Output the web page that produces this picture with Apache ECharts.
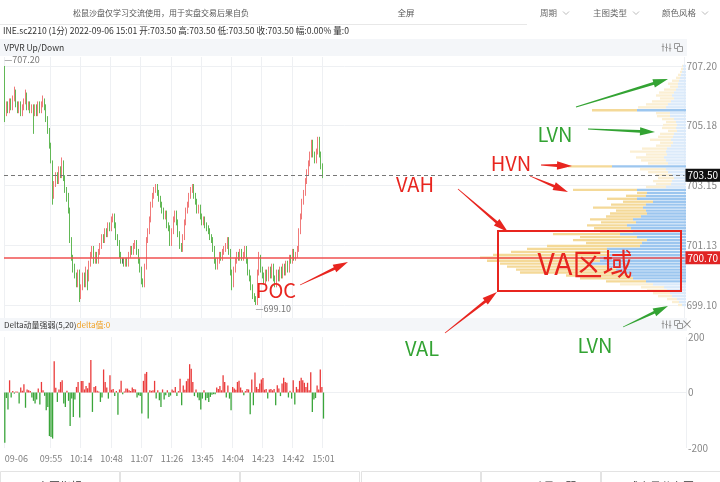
<!DOCTYPE html>
<html><head><meta charset="utf-8">
<script src="https://cdn.jsdelivr.net/npm/echarts@6/dist/echarts.min.js"></script>
<style>html,body{margin:0;padding:0;background:#fff}#c{width:720px;height:482px}</style>
</head><body><div id="c"></div>
<script>
// ---------------- data ----------------
const sessions = [['09:26','10:15'],['10:31','11:30'],['13:31','15:01']];
const dateLabel = '09-06';
const labelStart = 29, labelStep = 19;
// [open, close, low, high]
const candles = [
[707.2,705.6,705.3,707.2],[705.6,705.9,705.5,706.0],[705.9,705.7,705.6,706.0],[705.7,706.0,705.6,706.1],[706.0,705.8,705.7,706.1],
[705.8,706.1,705.7,706.2],[706.1,706.3,706.0,706.5],[706.3,705.9,705.8,706.4],[705.9,705.7,705.6,706.0],[705.7,705.9,705.6,706.0],
[705.9,705.6,705.5,706.0],[705.6,705.8,705.5,705.9],[705.8,706.0,705.7,706.1],[706.0,706.2,705.9,706.4],[706.2,705.8,705.7,706.3],
[705.8,705.9,705.7,706.0],[705.9,705.7,705.6,706.0],[705.7,705.8,705.6,705.9],[705.8,705.6,704.9,705.9],[705.6,705.8,705.5,705.9],
[705.8,705.6,705.5,705.9],[705.6,705.9,705.5,706.0],[705.9,705.7,705.6,706.0],[705.7,705.9,705.6,706.0],[705.9,706.1,705.8,706.2],
[706.1,705.8,705.7,706.1],[705.8,705.4,705.3,705.9],[705.4,705.0,704.9,705.5],[705.0,704.5,704.4,705.1],[704.5,704.0,703.9,704.6],
[704.0,702.8,702.5,704.0],[702.8,703.2,702.7,703.3],[703.2,703.5,703.1,703.6],[703.5,703.3,703.2,703.6],[703.3,703.7,703.2,703.8],
[703.7,703.5,703.4,703.8],[703.5,703.9,703.4,704.1],[703.9,703.4,703.3,704.0],[703.4,703.0,702.9,703.5],[703.0,702.7,702.6,703.1],
[702.7,702.3,702.2,702.9],[702.3,701.3,701.2,702.4],[701.3,700.7,700.6,701.4],[700.7,700.3,700.2,700.8],[700.3,700.1,700.0,700.5],
[700.1,699.8,699.7,700.2],[699.8,700.2,699.7,700.3],[700.2,699.4,699.2,700.3],[699.4,699.7,699.3,699.8],[699.7,700.1,699.6,700.2],
[700.1,699.8,699.7,700.2],[699.8,700.3,699.7,700.4],[700.3,700.0,699.6,700.3],[700.0,700.5,699.9,700.6],[700.5,700.8,700.4,700.9],
[700.8,701.0,700.7,701.1],[701.0,700.6,700.5,701.1],[700.6,700.8,700.5,700.9],[700.8,700.6,700.5,700.9],[700.6,700.9,700.5,701.0],
[700.9,701.1,700.8,701.2],[701.1,701.4,701.0,701.5],[701.4,701.3,701.2,701.5],[701.3,701.6,701.2,701.7],[701.6,701.5,701.4,701.7],
[701.5,701.8,701.4,701.9],[701.8,701.7,701.6,701.9],[701.7,702.0,701.6,702.1],[702.0,702.1,701.9,702.2],[702.1,701.8,701.7,702.2],
[701.8,701.4,701.3,701.9],[701.4,701.2,701.1,701.5],[701.2,700.8,700.7,701.3],[700.8,700.6,700.5,700.9],[700.6,700.6,700.5,700.7],
[700.6,700.5,700.4,700.7],[700.5,700.6,700.4,700.7],[700.6,700.5,700.4,700.7],[700.5,700.8,700.4,700.9],[700.8,701.0,700.7,701.1],
[701.0,700.9,700.8,701.1],[700.9,701.1,700.8,701.2],[701.1,701.2,701.0,701.3],[701.2,700.9,700.8,701.3],[700.9,700.6,700.5,701.0],
[700.6,700.3,700.2,700.7],[700.3,699.9,699.8,700.4],[699.9,699.8,699.7,700.0],[699.8,700.4,699.7,700.5],[700.4,701.3,700.3,701.4],
[701.3,701.6,701.2,701.7],[701.6,702.0,701.5,702.1],[702.0,702.5,701.9,702.6],[702.5,702.8,702.4,702.9],[702.8,703.0,702.7,703.1],
[703.0,703.1,702.9,703.2],[703.1,702.9,702.8,703.2],[702.9,702.7,702.6,703.0],[702.7,702.5,702.4,702.8],[702.5,702.3,702.2,702.6],
[702.3,702.1,702.0,702.4],[702.1,702.2,702.0,702.3],[702.2,701.8,701.7,702.3],[701.8,701.7,701.6,701.9],[701.7,701.2,701.1,701.8],
[701.2,701.6,701.1,701.7],[701.6,702.0,701.5,702.1],[702.0,702.2,701.9,702.3],[702.2,701.9,701.8,702.3],[701.9,701.5,701.4,702.0],
[701.5,701.1,701.0,701.6],[701.1,701.0,700.9,701.2],[701.0,701.4,700.9,701.5],[701.4,701.9,701.3,702.0],[701.9,702.3,701.8,702.4],
[702.3,702.5,702.2,702.6],[702.5,702.8,702.4,702.9],[702.8,703.0,702.7,703.1],[703.0,703.1,702.9,703.2],[703.1,702.8,702.7,703.2],
[702.8,702.6,702.5,702.9],[702.6,702.3,702.2,702.7],[702.3,702.4,702.2,702.5],[702.4,702.1,702.0,702.5],[702.1,701.9,701.8,702.2],
[701.9,702.0,701.8,702.1],[702.0,701.8,701.7,702.1],[701.8,701.7,701.6,701.9],[701.7,701.6,701.5,701.8],[701.6,701.4,701.3,701.7],
[701.4,701.3,701.2,701.5],[701.3,701.0,700.9,701.4],[701.0,700.6,700.5,701.1],[700.6,700.4,700.3,700.7],[700.4,700.6,700.3,700.7],
[700.6,700.8,700.5,700.9],[700.8,700.7,700.6,700.9],[700.7,700.9,700.6,701.0],[700.9,701.0,700.8,701.1],[701.0,701.1,700.9,701.2],
[701.1,701.3,701.0,701.4],[701.3,700.9,700.8,701.4],[700.9,700.2,700.1,701.0],[700.2,699.8,699.6,700.3],[699.8,700.3,699.7,700.4],
[700.3,700.6,700.2,700.7],[700.6,700.8,700.5,700.9],[700.8,700.7,700.6,700.9],[700.7,700.9,700.6,701.0],[700.9,700.7,700.6,701.0],
[700.7,700.8,700.6,700.9],[700.8,701.0,700.7,701.1],[701.0,700.6,700.5,701.1],[700.6,700.2,700.1,700.7],[700.2,700.0,699.9,700.3],
[700.0,699.7,699.6,700.1],[699.7,699.4,699.3,699.8],[699.4,699.3,699.2,699.5],[699.3,699.2,699.1,699.4],[699.2,700.2,699.1,700.3],
[700.2,700.7,700.1,700.9],[700.7,700.3,700.2,700.8],[700.3,700.1,700.0,700.4],[700.1,699.9,699.8,700.2],[699.9,700.2,699.8,700.3],
[700.2,700.0,699.9,700.3],[700.0,700.3,699.9,700.4],[700.3,700.1,700.0,700.4],[700.1,700.4,700.0,700.5],[700.4,700.0,699.9,700.5],
[700.0,699.8,699.7,700.1],[699.8,700.2,699.7,700.3],[700.2,700.0,699.9,700.3],[700.0,700.3,699.9,700.4],[700.3,700.1,700.0,700.4],
[700.1,700.4,700.0,700.5],[700.4,700.2,700.1,700.5],[700.2,700.5,700.1,700.6],[700.5,700.3,700.2,700.6],[700.3,700.7,700.2,700.8],
[700.7,700.6,700.5,700.8],[700.6,700.9,700.5,701.0],[700.9,700.7,700.6,701.0],[700.7,700.8,700.6,700.9],[700.8,701.0,700.7,701.1],
[701.0,701.6,700.9,701.7],[701.6,702.1,701.5,702.2],[702.1,702.6,702.0,702.7],[702.6,702.9,702.5,703.0],[702.9,703.3,702.8,703.4],
[703.3,703.6,703.2,703.7],[703.6,703.9,703.5,704.0],[703.9,704.2,703.8,704.3],[704.2,704.6,704.1,704.7],[704.6,704.2,704.1,704.7],
[704.2,704.0,703.9,704.3],[704.0,704.3,703.9,704.4],[704.3,704.7,704.2,704.8],[704.7,704.2,704.1,704.8],[704.2,703.8,703.7,704.3],
[703.8,703.5,703.4,703.9]
];
const delta = [
-181,-20,-61,44,-18,5,-4,4,3,-40, 18,6,30,-55,11,8,5,-18,-30,-40,
-25,14,-43,38,8,-12,-64,-52,-157,-160, -166,113,17,-34,11,38,44,-40,-52,6,
-30,-121,-22,-88,-25,20,38,-90,41,41, 11,23,15,35,117,-70,20,23,6,4,
-34,-18,83,38,18,-22,62,10,13,-13, 5,-80,11,42,-6,4,14,14,8,5,
18,13,11,-18,-10,-13,-76,42,68,74, -94,8,6,8,42,-22,8,-28,-52,11,
-25,-10,8,-16,-11,11,6,20,-13,5, 50,-46,25,10,41,50,102,86,38,-13,
11,-18,-28,-61,-22,8,-28,-20,-34,-16, -8,-6,-6,18,13,23,8,62,38,-18,
25,-22,-64,20,14,10,38,42,18,8, -10,5,13,11,-78,47,-46,72,20,13,
32,47,52,10,13,-22,11,13,8,13, -46,26,14,-13,32,53,38,35,-18,6,
-22,44,-43,20,12,42,53,44,35,20, 35,8,73,-70,-25,-20,25,11,83,20,
-94
];
const priceTicks = [699.10, 701.13, 703.15, 705.18, 707.20];
const deltaTicks = [-200, 0, 200];
const lastPrice = 703.50;
const pocPrice = 700.70;
// volume profile rows (price level, up volume, down volume)
const vpPrice = [707.2,707.1,707.0,706.9,706.8,706.7,706.6,706.5,706.4,706.3,706.2,706.1,706.0,705.9,705.8,705.7,705.6,705.5,705.4,705.3,705.2,705.1,705.0,704.9,704.8,704.7,704.6,704.5,704.4,704.3,704.2,704.1,704.0,703.9,703.8,703.7,703.6,703.5,703.4,703.3,703.2,703.1,703.0,702.9,702.8,702.7,702.6,702.5,702.4,702.3,702.2,702.1,702.0,701.9,701.8,701.7,701.6,701.5,701.4,701.3,701.2,701.1,701.0,700.9,700.8,700.7,700.6,700.5,700.4,700.3,700.2,700.1,700.0,699.9,699.8,699.7,699.6,699.5,699.4,699.3,699.2,699.1];
const vpUp = [30,30,40,50,60,70,80,80,100,120, 140,120,150,180,200,490,160,160,120,100, 90,100,90,120,130,150,130,150,190,200, 190,220,200,180,740,200,180,140,120,140, 150,200,490,390,400,490,330,400,430,400, 390,450,530,500,590,550,530,660,490,390, 440,460,790,760,760,860,860,960,790,700, 660,550,530,400,330,220,190,160,140,90, 70,40];
const vpDown = [10,20,20,30,40,70,100,80,120,150, 160,140,190,220,280,450,140,130,120,100, 140,140,90,140,150,210,130,150,250,360, 210,280,250,200,440,260,200,160,160,190, 150,200,640,100,200,300,300,350,500,300, 370,350,430,350,400,370,330,670,570,740, 560,930,800,990,1170,1200,1130,900,1000,1000, 1000,650,530,400,330,230,200,170,140,100, 70,40];
const vaHigh = 703.0, vaLow = 699.9;
const hvnRows = [705.7, 703.8];
const tabs = ['主图指标','MA','MACD','VOL','Delta动量强弱','成交量分布图'];

// ---------------- build ----------------
function toMin(s){const a=s.split(':');return (+a[0])*60+(+a[1]);}
const times = [];
sessions.forEach(function(se){for(let t=toMin(se[0]);t<=toMin(se[1]);t++){times.push(String(Math.floor(t/60)).padStart(2,'0')+':'+String(t%60).padStart(2,'0'));}});
const TOTAL = 428;
const cats = times.concat(new Array(TOTAL - times.length).fill(''));
const showIdx = function(i){return i===0 || (i>=labelStart && i<times.length && (i-labelStart)%labelStep===0);};
const vpRows = vpPrice.map(function(p,i){return [p, vpUp[i], vpDown[i]];});

const FONT = '"Noto Sans CJK SC", "Noto Sans", sans-serif';
const yMin = 698.659, yMax = 707.505;
const GL = 4, GR = 34;

const chart = echarts.init(document.getElementById('c'), null, {renderer:'canvas'});

function txt(x,y,text,size,color,align,extra){
  return Object.assign({type:'text', x:x, y:y, z:50, silent:true, style:{text:text, fill:color, font:size+'px '+FONT, textAlign:align||'left', textVerticalAlign:'middle', align:align||'left', verticalAlign:'middle'}}, extra||{});
}
function arrow(x1,y1,x2,y2,color){
  const dx=x2-x1, dy=y2-y1, L=Math.hypot(dx,dy), ux=dx/L, uy=dy/L, nx=-uy, ny=ux;
  const hl=15, hw=4.2, t0=0.4, t1=1.4;
  const bx=x2-ux*hl, by=y2-uy*hl;
  return {type:'polygon', z:60, silent:true, shape:{points:[
    [x1+nx*t0,y1+ny*t0],[bx+nx*t1,by+ny*t1],[bx+nx*hw,by+ny*hw],[x2,y2],[bx-nx*hw,by-ny*hw],[bx-nx*t1,by-ny*t1],[x1-nx*t0,y1-ny*t0]]},
    style:{fill:color}};
}
function chevron(x,y){return {type:'polyline', z:50, silent:true, shape:{points:[[x,y-1.5],[x+3,y+1.5],[x+6,y-1.5]]}, style:{stroke:'#bbb', lineWidth:1, fill:null}};}
function icons(y, withClose){
  const arr = [];
  [663,666.5,670].forEach(function(x,k){
    arr.push({type:'line', z:50, silent:true, shape:{x1:x,y1:y-4,x2:x,y2:y+4}, style:{stroke:'#999', lineWidth:1}});
    arr.push({type:'line', z:50, silent:true, shape:{x1:x-1.3,y1:y-1+k,x2:x+1.3,y2:y-1+k}, style:{stroke:'#999', lineWidth:1}});
  });
  arr.push({type:'rect', z:50, silent:true, shape:{x:674.5,y:y-4,width:5,height:5}, style:{stroke:'#999', fill:null, lineWidth:1}});
  arr.push({type:'rect', z:50, silent:true, shape:{x:677.5,y:y-1,width:5,height:5}, style:{stroke:'#999', fill:'#f4f6f9', lineWidth:1}});
  if (withClose) arr.push(txt(687,y,'×',12,'#888','center'));
  return arr;
}

const RED = '#e8251f', GREEN = '#33a333';
const graphics = [
  // toolbar
  {type:'line', z:40, silent:true, shape:{x1:0,y1:24.5,x2:527,y2:24.5}, style:{stroke:'#e8e8e8', lineWidth:1}},
  txt(161,13,'松鼠沙盘仅学习交流使用，用于实盘交易后果自负',8,'#555','center'),
  txt(406,13,'全屏',8.5,'#555','center'),
  txt(540,13,'周期',8.5,'#666','left'), chevron(563,13),
  txt(593,13,'主图类型',8.5,'#666','left'), chevron(633,13),
  txt(662,13,'颜色风格',8.5,'#666','left'), chevron(702,13),
  txt(3,31,'INE.sc2210 (1分) 2022-09-06 15:01 开:703.50 高:703.50 低:703.50 收:703.50 幅:0.00% 量:0',8.6,'#333','left'),
  // panel header bands
  {type:'rect', z:1, silent:true, shape:{x:0,y:39,width:687,height:17}, style:{fill:'#f4f6f9'}},
  txt(4,47.5,'VPVR Up/Down',8.5,'#333','left'),
  {type:'rect', z:1, silent:true, shape:{x:0,y:318,width:687,height:13}, style:{fill:'#f4f6f9'}},
  {type:'text', x:4, y:324.5, z:50, silent:true, style:{text:'{a|Delta动量强弱(5,20)}{b|delta值:0}', rich:{a:{fill:'#333', font:'8px '+FONT},b:{fill:'#f0a020', font:'8px '+FONT}}, textVerticalAlign:'middle', verticalAlign:'middle'}},
  // annotations
  arrow(576,107,668,79,GREEN),
  arrow(588,129,655,132,GREEN),
  arrow(541,165,572,166,RED),
  arrow(530,176,568,192,RED),
  arrow(458,189,508,232,RED),
  arrow(445,333,497,292,RED),
  arrow(623,327,668,306,GREEN),
  arrow(300,285,348,262,RED),
  {type:'rect', z:60, silent:true, shape:{x:498,y:231,width:183,height:60}, style:{stroke:RED, lineWidth:2, fill:null}},
  txt(555,134,'LVN',20,GREEN,'center'),
  txt(511,163,'HVN',20,RED,'center'),
  txt(415,184,'VAH',20,RED,'center'),
  txt(585,264,'VA区域',30,RED,'center'),
  txt(276,290,'POC',20,RED,'center'),
  txt(422,348,'VAL',20,GREEN,'center'),
  txt(595,345,'LVN',20,GREEN,'center')
].concat(icons(47.5,false)).concat(icons(324.5,true));
// bottom tab bar
tabs.forEach(function(t,i){
  const x0 = Math.round(i*120.2);
  graphics.push({type:'rect', z:40, silent:true, shape:{x:x0+0.5,y:471.5,width:119,height:20}, style:{stroke:'#e3e3e3', fill:'#fff', lineWidth:1}});
  graphics.push(txt(x0+60,487,t,11,'#333','center'));
});

const splitFn = function(i){return showIdx(i);};
const option = {
  animation:false,
  backgroundColor:'#fff',
  textStyle:{fontFamily:FONT},
  grid:[
    {left:GL, right:GR, top:57, height:261},
    {left:GL, right:GR, top:337, height:111},
    {left:GL, right:GR, top:57, height:261}
  ],
  xAxis:[
    {gridIndex:0, type:'category', data:cats, boundaryGap:true, axisLine:{show:false}, axisTick:{show:false}, axisLabel:{show:false},
      splitLine:{show:true, interval:splitFn, lineStyle:{color:'#eef0f3'}}},
    {gridIndex:1, type:'category', data:cats, boundaryGap:true, axisLine:{show:true, lineStyle:{color:'#eef0f3'}}, axisTick:{show:false},
      axisLabel:{show:true, interval:splitFn, color:'#808080', fontSize:9, margin:6, alignMinLabel:'left', hideOverlap:false,
        formatter:function(v,i){return i===0?dateLabel:v;}},
      splitLine:{show:true, interval:splitFn, lineStyle:{color:'#eef0f3'}}},
    {gridIndex:2, type:'value', inverse:true, min:0, max:6820, show:false}
  ],
  yAxis:[
    {gridIndex:0, type:'value', position:'right', min:yMin, max:yMax, axisLine:{show:false},
      axisTick:{show:false, customValues:priceTicks},
      axisLabel:{customValues:priceTicks, color:'#888', fontSize:10, margin:2, formatter:function(v){return v.toFixed(2);}},
      splitLine:{show:true, lineStyle:{color:'#eef0f3'}}},
    {gridIndex:1, type:'value', position:'right', min:-200, max:200, interval:200, axisLine:{show:false}, axisTick:{show:false},
      axisLabel:{color:'#888', fontSize:10, margin:2},
      splitLine:{show:true, lineStyle:{color:['rgba(0,0,0,0)','#e9ecf0','rgba(0,0,0,0)']}}},
    {gridIndex:2, type:'value', min:yMin, max:yMax, show:false}
  ],
  series:[
    {type:'custom', name:'VPVR', xAxisIndex:2, yAxisIndex:2, z:1, silent:true, data:vpRows, encode:{x:1, y:0},
      renderItem:function(params, api){
        const p = api.value(0), up = api.value(1), dn = api.value(2);
        const a = api.coord([0,p]), b = api.coord([up,p]), c = api.coord([up+dn,p]);
        const h = api.size([0,0.1])[1]*0.8;
        const strong = (p <= vaHigh+1e-6 && p >= vaLow-1e-6) || hvnRows.some(function(r){return Math.abs(r-p)<1e-6;});
        return {type:'group', children:[
          {type:'rect', shape:{x:b[0], y:a[1]-h/2, width:a[0]-b[0], height:h}, style:{fill:strong?'#9cc6ef':'#dbeafa'}},
          {type:'rect', shape:{x:c[0], y:a[1]-h/2, width:b[0]-c[0], height:h}, style:{fill:strong?'#f4d998':'#fbefd3'}}
        ]};
      }},
    {type:'candlestick', name:'K', xAxisIndex:0, yAxisIndex:0, z:3, data:candles, barWidth:0.6,
      itemStyle:{color:'#f07a7a', color0:'#62b856', borderColor:'#f07a7a', borderColor0:'#62b856', borderColorDoji:'#666', borderWidth:1},
      markLine:{symbol:'none', silent:true, animation:false, z:5,
        label:{show:true, position:'end', distance:1, fontSize:10, padding:[2,2,1,2], color:'#fff'},
        data:[
          {yAxis:lastPrice, lineStyle:{color:'#777', type:[4,3], width:1}, label:{formatter:lastPrice.toFixed(2), backgroundColor:'#111'}},
          {yAxis:pocPrice, lineStyle:{color:'#f05050', type:'solid', width:1.5}, label:{formatter:pocPrice.toFixed(2), backgroundColor:'#e02424'}}
        ]},
      markPoint:{symbol:'circle', symbolSize:1, animation:false, itemStyle:{color:'rgba(0,0,0,0)'},
        label:{show:true, position:'right', color:'#777', fontSize:9, distance:0,
          formatter:function(p){return '—'+Number(p.value).toFixed(2);}},
        data:[
          {type:'max', valueDim:'highest', label:{offset:[-1,-6]}},
          {type:'min', valueDim:'lowest', label:{offset:[-1,4]}}
        ]}},
    {type:'bar', name:'Delta', xAxisIndex:1, yAxisIndex:1, data:delta, barWidth:1.3,
      itemStyle:{color:function(p){return p.value>=0?'#ea3b3b':'#3aa53a';}}}
  ],
  graphic:graphics
};
chart.setOption(option);
</script></body></html>
